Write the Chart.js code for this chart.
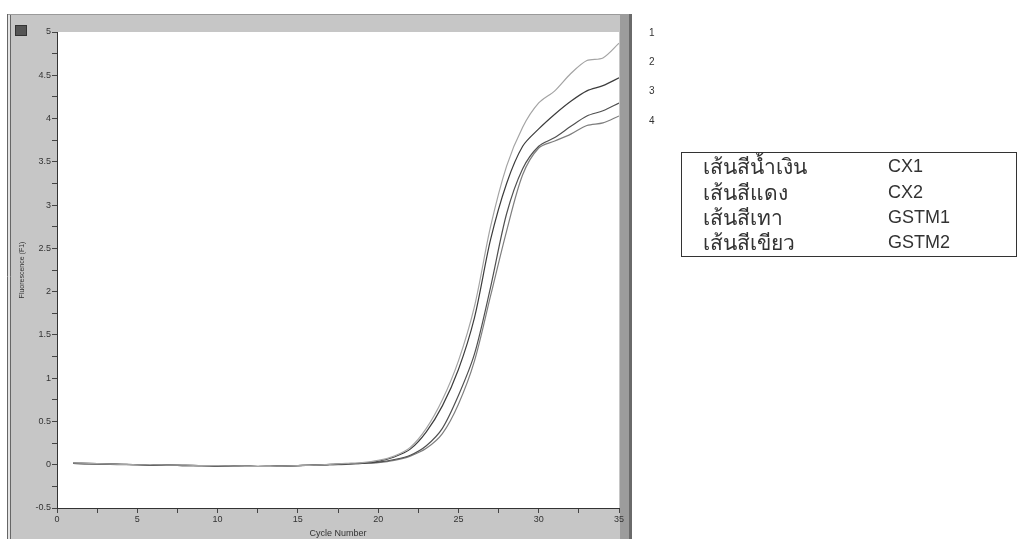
<!DOCTYPE html>
<html>
<head>
<meta charset="utf-8">
<script src="https://cdn.jsdelivr.net/npm/chart.js@4.4.1/dist/chart.umd.min.js"></script>
<style>
  html, body { margin: 0; padding: 0; background: #ffffff; }
  #wrap { position: relative; width: 1018px; height: 539px; overflow: hidden; background: #fff; }
  #c { position: absolute; left: 0; top: 0; }
  .num { position: absolute; font-family: "Liberation Sans", Arial, sans-serif; font-size: 10px; color: #333; }
  #legend { position: absolute; left: 681px; top: 152px; width: 336px; height: 105px; border: 1.5px solid #333; box-sizing: border-box; }
  .row { position: absolute; left: 21px; font-family: "Noto Sans", "Liberation Sans", Arial, sans-serif; font-size: 21px; color: #333; white-space: nowrap; line-height: 22px; }
  .code { position: absolute; left: 206px; font-family: "Liberation Sans", Arial, sans-serif; font-size: 18px; color: #333; line-height: 22px; }
  #icon { position: absolute; left: 15px; top: 25px; width: 12px; height: 11px; background: #555; border: 1px solid #333; box-sizing: border-box; }
</style>
</head>
<body>
<div id="wrap">
  <canvas id="c" width="1018" height="539"></canvas>
  <div id="icon"></div>
  <div id="nums"></div>
  <div id="legend"></div>
</div>
<script>
// ---- data ----
const cycles = [1,2,3,4,5,6,7,8,9,10,11,12,13,14,15,16,17,18,19,20,21,22,23,24,25,26,27,28,29,30,31,32,33,34,35];
const series1 = [0.02,0.015,0.01,0.005,0,0,-0.005,-0.005,-0.01,-0.01,-0.015,-0.02,-0.02,-0.015,-0.01,-0.005,0.005,0.015,0.025,0.05,0.1,0.2,0.42,0.75,1.2,1.83,2.75,3.45,3.9,4.18,4.32,4.52,4.67,4.7,4.87];
const series2 = [0.02,0.015,0.01,0.005,0,-0.005,-0.005,-0.01,-0.01,-0.015,-0.015,-0.02,-0.02,-0.015,-0.01,-0.005,0.005,0.01,0.02,0.04,0.09,0.18,0.38,0.68,1.1,1.7,2.6,3.25,3.68,3.88,4.05,4.2,4.32,4.38,4.47];
const series3 = [0.015,0.01,0.01,0.005,0,0,-0.005,-0.005,-0.01,-0.01,-0.015,-0.015,-0.02,-0.015,-0.01,-0.005,0,0.01,0.015,0.03,0.06,0.11,0.22,0.42,0.8,1.28,2.05,2.9,3.42,3.68,3.78,3.91,4.03,4.09,4.18];
const series4 = [0.015,0.01,0.005,0,0,-0.005,-0.005,-0.01,-0.01,-0.015,-0.015,-0.02,-0.02,-0.015,-0.01,-0.005,0,0.005,0.015,0.025,0.05,0.1,0.19,0.36,0.7,1.2,1.95,2.7,3.35,3.66,3.74,3.82,3.92,3.95,4.03];
const seriesNumbers = ['1','2','3','4'];
const legendNames = ['เส้นสีน้ำเงิน','เส้นสีแดง','เส้นสีเทา','เส้นสีเขียว'];
const legendCodes = ['CX1','CX2','GSTM1','GSTM2'];
const xTitle = 'Cycle Number';
const yTitle = 'Fluorescence (F1)';

// ---- styles ----
const lineColors = ['#a4a4a4','#3c3c3c','#505050','#7e7e7e'];

const allSeries = [series1, series2, series3, series4];
const datasets = allSeries.map((s, i) => ({
  label: seriesNumbers[i],
  data: s.map((v, k) => ({ x: cycles[k], y: v })),
  borderColor: lineColors[i],
  borderWidth: 1.2,
  pointRadius: 0,
  tension: 0.3,
  fill: false
}));

// side numbers
const numsDiv = document.getElementById('nums');
const numTops = [27, 56, 85, 115];
seriesNumbers.forEach((n, i) => {
  const d = document.createElement('div');
  d.className = 'num';
  d.style.left = '649px';
  d.style.top = numTops[i] + 'px';
  d.textContent = n;
  numsDiv.appendChild(d);
});

// legend box
const leg = document.getElementById('legend');
const rowTops = [2, 28, 53, 78];
legendNames.forEach((n, i) => {
  const a = document.createElement('div');
  a.className = 'row';
  a.style.top = rowTops[i] + 'px';
  a.textContent = n;
  leg.appendChild(a);
  const b = document.createElement('div');
  b.className = 'code';
  b.style.top = rowTops[i] + 'px';
  b.textContent = legendCodes[i];
  leg.appendChild(b);
});

const framePlugin = {
  id: 'frame',
  beforeDraw(chart) {
    const ctx = chart.ctx;
    const a = chart.chartArea;
    ctx.save();
    ctx.fillStyle = '#c6c6c6';
    ctx.fillRect(8, 14, 624, 525);
    ctx.fillStyle = '#ffffff';
    ctx.fillRect(a.left, a.top, a.right - a.left, a.bottom - a.top);
    ctx.strokeStyle = '#666';
    ctx.lineWidth = 1;
    ctx.beginPath(); ctx.moveTo(7.5, 14); ctx.lineTo(7.5, 539); ctx.stroke();
    ctx.beginPath(); ctx.moveTo(10.5, 14); ctx.lineTo(10.5, 539); ctx.stroke();
    ctx.fillStyle = '#e4e4e4';
    ctx.fillRect(8, 14, 2, 525);
    ctx.strokeStyle = '#9a9a9a';
    ctx.beginPath(); ctx.moveTo(8, 14.5); ctx.lineTo(632, 14.5); ctx.stroke();
    ctx.fillStyle = '#9c9c9c';
    ctx.fillRect(a.right + 1, 14, 632 - a.right - 1, 525);
    ctx.fillStyle = '#6a6a6a';
    ctx.fillRect(629, 14, 3, 525);
    ctx.restore();
  }
};

const tickFont = { family: '"Liberation Sans", Arial, sans-serif', size: 9 };

new Chart(document.getElementById('c'), {
  type: 'line',
  data: { datasets },
  plugins: [framePlugin],
  options: {
    responsive: false,
    animation: false,
    devicePixelRatio: 1,
    layout: { autoPadding: false, padding: { left: 12, top: 32, right: 399, bottom: 0 } },
    plugins: { legend: { display: false }, tooltip: { enabled: false } },
    scales: {
      x: {
        type: 'linear',
        min: 0, max: 35,
        afterFit: (s) => { s.height = 31; },
        ticks: {
          stepSize: 2.5,
          autoSkip: false,
          maxRotation: 0,
          padding: 1,
          font: tickFont,
          color: '#333',
          callback: (v) => (Math.abs(v % 5) < 1e-6 ? String(v) : '')
        },
        grid: { drawOnChartArea: false, drawTicks: true, tickLength: 5, tickColor: '#444' },
        border: { display: true, color: '#333', width: 1 },
        title: { display: true, text: xTitle, font: tickFont, color: '#333', padding: { top: 0, bottom: 0 } }
      },
      y: {
        type: 'linear',
        min: -0.5, max: 5,
        afterFit: (s) => { s.width = 45; },
        ticks: {
          stepSize: 0.25,
          autoSkip: false,
          padding: 1,
          font: tickFont,
          color: '#333',
          callback: (v) => (Math.abs(v * 2 - Math.round(v * 2)) < 1e-6 ? String(v) : '')
        },
        grid: { drawOnChartArea: false, drawTicks: true, tickLength: 5, tickColor: '#444' },
        border: { display: true, color: '#333', width: 1 },
        title: { display: true, text: yTitle, font: { family: '"Liberation Sans", Arial, sans-serif', size: 7 }, color: '#333', padding: { top: 6, bottom: 0 } }
      }
    }
  }
});
</script>
</body>
</html>
